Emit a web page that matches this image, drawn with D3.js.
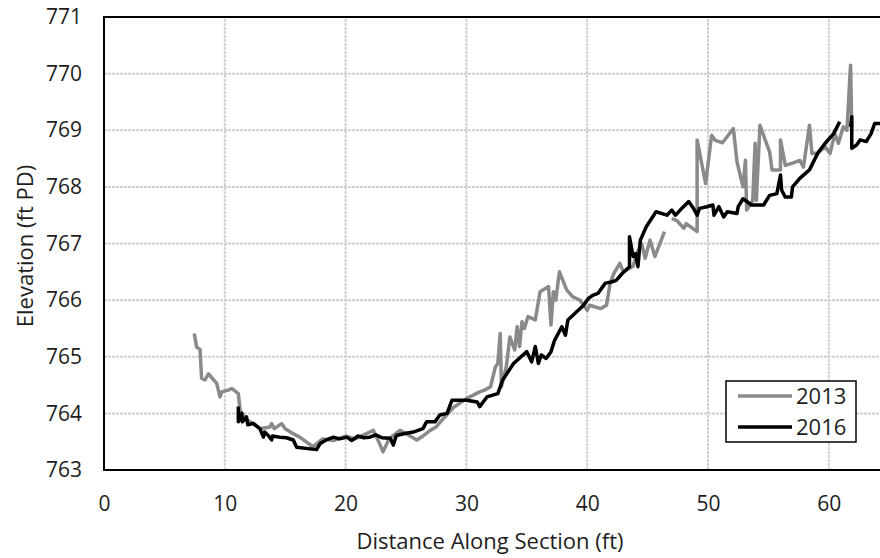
<!DOCTYPE html>
<html>
<head>
<meta charset="utf-8">
<script src="https://cdn.jsdelivr.net/npm/d3@7"></script>
<style>
  body { margin: 0; background: #fff; }
  svg { display: block; font-family: "Open Sans", sans-serif; }
</style>
</head>
<body>
<div id="chart"></div>
<script>
// values (null = break in the line)
var dist2013 = [7.47,7.67,7.95,8.08,8.36,8.64,9.33,9.6,9.74,10.29,10.57,11.12,11.26,11.8,12.4,12.9,13.74,13.88,14.1,14.7,15.0,15.6,16.2,17.3,18.1,19.0,20.0,20.8,21.5,22.3,22.8,23.1,23.6,24.5,25.2,25.9,26.4,27.0,27.5,28.1,28.9,30.0,31.1,31.6,32.0,32.4,32.6,32.8,32.9,33.3,33.6,34.0,34.2,34.4,34.6,34.8,35.1,35.7,36.1,36.8,37.0,37.2,37.4,37.7,38.3,38.8,39.4,40.0,40.2,41.1,41.6,41.9,42.2,42.7,43.0,43.8,44.1,44.5,44.8,45.2,45.6,46.4,46.7,
  47.0,47.4,48.0,48.2,49.1,49.1,49.8,50.3,50.6,51.2,52.1,52.4,52.9,53.1,53.2,53.7,53.9,54.0,54.3,54.7,55.1,55.3,56.0,56.0,56.4,57.0,57.6,57.9,58.4,58.6,59.1,59.7,60.1,60.5,60.8,61.2,61.5,61.8,61.9];
var elev2013 = [765.41,765.17,765.13,764.62,764.59,764.70,764.53,764.29,764.38,764.41,764.44,764.35,764.06,763.88,763.82,763.73,763.76,763.82,763.73,763.82,763.73,763.65,763.58,763.41,763.55,763.52,763.60,763.55,763.62,763.70,763.47,763.32,763.55,763.70,763.62,763.53,763.60,763.70,763.76,763.91,764.10,764.26,764.38,764.42,764.47,764.82,764.88,765.41,764.47,764.82,765.35,765.12,765.53,765.18,765.62,765.50,765.71,765.65,766.15,766.24,765.56,766.15,766.00,766.50,766.18,766.06,766.00,765.82,765.91,765.85,765.91,766.30,766.47,766.65,766.50,766.60,766.82,767.00,766.74,767.06,766.77,767.21,null,
  767.44,767.41,767.27,767.35,767.21,768.83,768.06,768.91,768.82,768.78,769.03,768.44,768.00,768.47,767.59,767.76,768.77,767.76,769.09,768.85,768.62,768.30,768.30,768.83,768.38,768.42,768.47,768.35,769.09,768.59,768.60,768.71,768.59,768.94,768.77,769.06,769.00,770.15,769.06];

var dist2016 = [11.12,11.12,11.4,11.45,11.8,11.9,12.36,12.9,13.2,13.3,13.6,13.88,13.95,14.57,15.1,15.67,15.95,17.6,17.9,18.4,19.0,19.5,20.1,20.5,21.0,21.5,22.0,22.5,23.0,23.7,23.95,24.2,25.0,25.6,26.4,26.7,27.4,27.8,28.4,28.8,29.6,30.0,30.9,31.1,31.7,32.6,33.0,33.9,35.0,35.4,35.7,35.96,36.2,36.6,37.0,37.3,37.9,38.2,38.4,39.7,40.1,40.5,40.9,41.5,42.0,42.4,42.9,43.5,43.5,43.8,44.0,44.2,44.4,44.9,45.7,46.6,47.0,47.3,47.7,48.4,48.8,49.1,49.3,49.9,50.4,50.5,50.9,51.3,51.6,52.4,52.5,52.9,53.6,54.6,55.1,55.7,56.0,56.1,56.4,56.9,57.0,57.6,58.4,59.1,59.7,60.4,60.9,61.3,
  61.8,61.9,61.9,62.3,62.6,63.1,63.5,63.8,64.3];
var elev2016 = [764.12,763.85,764.00,763.85,763.94,763.80,763.82,763.73,763.58,763.67,763.61,763.53,763.60,763.58,763.57,763.53,763.40,763.36,763.47,763.53,763.58,763.55,763.58,763.52,763.60,763.57,763.58,763.62,763.57,763.56,763.44,763.61,763.65,763.67,763.73,763.85,763.85,763.97,764.00,764.23,764.23,764.23,764.20,764.12,764.29,764.35,764.59,764.88,765.09,764.91,765.18,764.88,765.03,764.97,765.09,765.29,765.53,765.38,765.65,765.91,766.03,766.09,766.12,766.30,766.32,766.35,766.47,766.59,767.12,766.77,766.82,766.59,767.06,767.30,767.56,767.50,767.59,767.50,767.59,767.74,767.62,767.50,767.62,767.65,767.68,767.50,767.65,767.47,767.56,767.53,767.65,767.79,767.68,767.68,767.85,767.88,768.21,767.94,767.82,767.82,768.00,768.15,768.30,768.60,768.77,768.94,769.15,null,
  769.06,769.24,768.68,768.74,768.83,768.80,768.94,769.12,769.12];

var xTicks = [0,10,20,30,40,50,60];
var yTicks = [763,764,765,766,767,768,769,770,771];
var seriesNames = ["2013","2016"];
var seriesColors = ["#8a8a8a","#000000"];

var width = 880, height = 558;
var margin = {left: 104, top: 17, bottom: 88};
var textColor = "#1e1e1e";

var x = d3.scaleLinear().domain([0, 70]).range([margin.left, margin.left + 7 * 120.8]);
var y = d3.scaleLinear().domain([763, 771]).range([height - margin.bottom, margin.top]);

var svg = d3.select("#chart").append("svg")
  .attr("width", width)
  .attr("height", height);

// gridlines
svg.append("g").selectAll("line").data(xTicks.slice(1)).enter().append("line")
  .attr("x1", d => x(d)).attr("x2", d => x(d))
  .attr("y1", y(763)).attr("y2", y(771))
  .attr("stroke", "#cfcfcf").attr("stroke-width", 2).attr("stroke-dasharray", "3,1");
svg.append("g").selectAll("line").data(yTicks.slice(1, -1)).enter().append("line")
  .attr("x1", x(0)).attr("x2", x(70))
  .attr("y1", d => y(d)).attr("y2", d => y(d))
  .attr("stroke", "#cfcfcf").attr("stroke-width", 2).attr("stroke-dasharray", "3,1");

// series
function toPoints(ds, es) {
  return ds.map((d, i) => ({d: d, e: es[i]}));
}
var line = d3.line()
  .defined(p => p.e != null)
  .x(p => x(p.d))
  .y(p => y(p.e));

var series = [toPoints(dist2013, elev2013), toPoints(dist2016, elev2016)];
series.forEach(function(pts, i) {
  svg.append("path")
    .datum(pts)
    .attr("fill", "none")
    .attr("stroke", seriesColors[i])
    .attr("stroke-width", 3.5)
    .attr("stroke-linejoin", "round")
    .attr("d", line);
});

// frame
svg.append("rect")
  .attr("x", x(0)).attr("y", y(771))
  .attr("width", x(70) - x(0)).attr("height", y(763) - y(771))
  .attr("fill", "none").attr("stroke", "#000").attr("stroke-width", 2);

// axes
var xAxis = svg.append("g")
  .attr("transform", "translate(0," + y(763) + ")")
  .call(d3.axisBottom(x).tickValues(xTicks).tickSize(0).tickPadding(26));
var yAxis = svg.append("g")
  .attr("transform", "translate(" + x(0) + ",0)")
  .call(d3.axisLeft(y).tickValues(yTicks).tickSize(0).tickPadding(22));
[xAxis, yAxis].forEach(function(g) {
  g.select(".domain").remove();
  g.selectAll("text").attr("font-size", 21).attr("font-family", "'Open Sans', sans-serif").attr("fill", textColor);
});

svg.append("text")
  .attr("x", 490).attr("y", 549)
  .attr("text-anchor", "middle")
  .attr("font-size", 22).attr("fill", textColor)
  .text("Distance Along Section (ft)");

svg.append("text")
  .attr("transform", "translate(33,246) rotate(-90)")
  .attr("text-anchor", "middle")
  .attr("font-size", 22).attr("fill", textColor)
  .text("Elevation (ft PD)");

// legend
var legend = svg.append("g");
legend.append("rect")
  .attr("x", 726).attr("y", 381).attr("width", 130).attr("height", 61)
  .attr("fill", "#fff").attr("stroke", "#000").attr("stroke-width", 1.5);
seriesNames.forEach(function(name, i) {
  var ly = 396 + i * 31;
  legend.append("line")
    .attr("x1", 738).attr("x2", 792).attr("y1", ly).attr("y2", ly)
    .attr("stroke", seriesColors[i]).attr("stroke-width", 3.5);
  legend.append("text")
    .attr("x", 796).attr("y", ly + 8)
    .attr("font-size", 22).attr("fill", textColor)
    .text(name);
});
</script>
</body>
</html>
